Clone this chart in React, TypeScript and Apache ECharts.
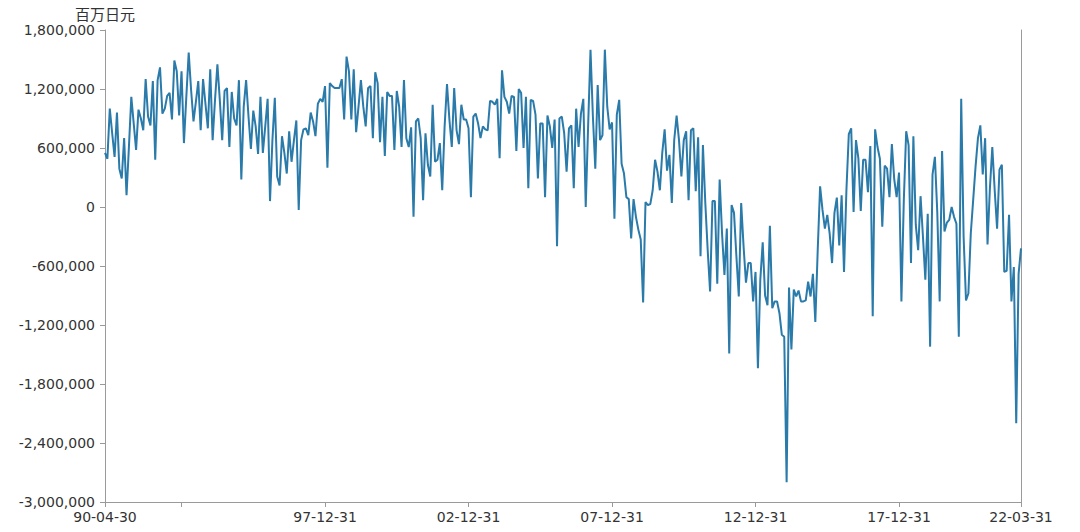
import React, { useEffect, useRef } from "react";
import * as echarts from "echarts";

// Monthly categories: month-end dates from 1990-04 to 2022-03 (YY-MM-DD)
const START_YEAR = 1990;
const START_MONTH = 4;
const MONTH_COUNT = 384;
const categories: string[] = [];
for (let k = 0; k < MONTH_COUNT; k++) {
  const m0 = START_MONTH - 1 + k;
  const y = START_YEAR + Math.floor(m0 / 12);
  const m = (m0 % 12) + 1;
  const d = new Date(Date.UTC(y, m, 0)).getUTCDate();
  categories.push(
    `${String(y % 100).padStart(2, "0")}-${String(m).padStart(2, "0")}-${String(d).padStart(2, "0")}`
  );
}

// Values (百万日元)
const values1990to1995 = [
  550000, 490000, 1000000, 750000, 510000, 960000, 390000, 290000, 700000, 120000, 610000, 1120000,
  850000, 580000, 990000, 900000, 780000, 1300000, 920000, 830000, 1280000, 480000, 1290000, 1420000,
  950000, 1000000, 1130000, 1160000, 890000, 1490000, 1380000, 930000, 1380000, 650000, 1120000, 1570000,
  1190000, 870000, 1070000, 1280000, 780000, 1300000, 1050000, 800000, 1400000, 680000, 1090000, 1450000,
  1090000, 680000, 1180000, 1210000, 610000, 1170000, 900000, 830000, 1290000, 280000, 1020000, 1290000,
  920000, 590000, 980000, 820000,
];
const values1995to2000 = [
  540000, 1120000, 550000, 820000, 1100000, 60000, 680000, 1110000, 310000, 220000, 720000, 550000,
  340000, 770000, 460000, 680000, 880000, -30000, 680000, 790000, 800000, 730000, 960000, 870000,
  720000, 1050000, 1100000, 1070000, 1230000, 400000, 1260000, 1230000, 1210000, 1210000, 1210000, 1300000,
  890000, 1530000, 1380000, 890000, 1400000, 760000, 1020000, 1290000, 1020000, 820000, 1210000, 1230000,
  700000, 1370000, 1260000, 660000, 1120000, 520000, 1170000, 1130000, 1130000, 580000, 1180000, 1020000,
  610000, 1290000, 700000, 610000,
];
const values2000to2006 = [
  810000, -100000, 870000, 900000, 700000, 70000, 750000, 430000, 310000, 1040000, 460000, 480000,
  650000, 170000, 820000, 1250000, 890000, 610000, 1210000, 780000, 640000, 1040000, 890000, 890000,
  800000, 100000, 920000, 950000, 850000, 700000, 820000, 790000, 780000, 1080000, 1070000, 1040000,
  1100000, 495000, 1390000, 1120000, 1070000, 950000, 1130000, 1120000, 570000, 1200000, 1160000, 600000,
  1120000, 190000, 1090000, 1080000, 940000, 290000, 850000, 850000, 100000, 930000, 820000, 600000,
  890000, -400000, 900000, 920000,
];
const values2006to2011 = [
  750000, 360000, 800000, 830000, 190000, 1000000, 610000, 950000, 1100000, 0, 820000, 1600000,
  920000, 390000, 1240000, 680000, 730000, 1600000, 1020000, 790000, 860000, -120000, 940000, 1090000,
  440000, 340000, 100000, 80000, -320000, 80000, -100000, -230000, -330000, -970000, 50000, 20000,
  30000, 170000, 480000, 360000, 170000, 550000, 790000, 370000, 530000, 40000, 680000, 930000,
  680000, 310000, 680000, 770000, 70000, 780000, 800000, 160000, 710000, -500000, 630000, 40000,
  -440000, -860000, 60000, 60000,
];
const values2011to2016 = [
  -780000, 280000, -270000, -690000, -220000, -1490000, 20000, -60000, -500000, -910000, 40000, -400000,
  -770000, -570000, -570000, -960000, -660000, -1640000, -740000, -360000, -900000, -1000000, -190000, -1030000,
  -960000, -960000, -1080000, -1300000, -1320000, -2800000, -820000, -1450000, -840000, -910000, -850000, -960000,
  -960000, -950000, -760000, -910000, -680000, -1170000, -440000, 210000, -30000, -220000, -80000, -270000,
  -570000, -60000, 95000, -390000, 120000, -660000, 170000, 740000, 800000, -50000, 680000, 495000,
  -40000, 480000, 480000, 150000,
];
const values2016to2022 = [
  620000, -1110000, 790000, 610000, 490000, -200000, 420000, 390000, 100000, 640000, 280000, 100000,
  350000, -960000, 70000, 770000, 630000, -570000, 720000, -180000, -440000, 110000, -300000, -740000,
  -70000, -1420000, 330000, 510000, -60000, -960000, 570000, -250000, -160000, -130000, 0, -100000,
  -170000, -1320000, 1100000, -300000, -950000, -880000, -270000, 70000, 410000, 700000, 830000, 330000,
  700000, -380000, 190000, 610000, 170000, -220000, 380000, 430000, -660000, -650000, -80000, -960000,
  -610000, -2200000, -680000, -420000,
];
const seriesValues = [
  ...values1990to1995,
  ...values1995to2000,
  ...values2000to2006,
  ...values2006to2011,
  ...values2011to2016,
  ...values2016to2022,
];

const tickIndices = [0, 32, 92, 152, 212, 272, 332, 383];
const labelIndices = [0, 92, 152, 212, 272, 332, 383];
const Y_MIN = -3000000;
const Y_MAX = 1800000;
const Y_STEP = 600000;
const UNIT = "百万日元";

export default function App() {
  const ref = useRef<HTMLDivElement>(null);
  useEffect(() => {
    if (!ref.current) return;
    const chart = echarts.init(ref.current, undefined, { renderer: "svg" });
    const tickSet = new Set(tickIndices);
    const labelSet = new Set(labelIndices);
    const axisColor = "#9a9a9a";
    const font = "DejaVu Sans";
    chart.setOption({
      animation: false,
      backgroundColor: "#ffffff",
      grid: { left: 105, right: 59, top: 30, bottom: 30, containLabel: false },
      xAxis: {
        type: "category",
        data: categories,
        boundaryGap: false,
        axisLine: { show: true, onZero: false, lineStyle: { color: axisColor, width: 1 } },
        axisTick: {
          show: true,
          interval: (idx: number) => tickSet.has(idx),
          length: 5,
          lineStyle: { color: axisColor },
        },
        axisLabel: {
          interval: (idx: number) => labelSet.has(idx),
          color: "#333",
          fontSize: 14,
          fontFamily: font,
          margin: 8,
        },
        splitLine: { show: false },
      },
      yAxis: [
        {
          type: "value",
          min: Y_MIN,
          max: Y_MAX,
          interval: Y_STEP,
          name: UNIT,
          nameLocation: "end",
          nameGap: 9,
          nameTextStyle: { color: "#333", fontSize: 15, fontFamily: "Noto Sans CJK SC", align: "center" },
          axisLine: { show: true, lineStyle: { color: axisColor, width: 1 } },
          axisTick: { show: true, length: 5, lineStyle: { color: axisColor } },
          axisLabel: {
            color: "#333",
            fontSize: 14,
            fontFamily: font,
            margin: 10,
            formatter: (v: number) => v.toLocaleString("en-US"),
          },
          splitLine: { show: false },
        },
        {
          type: "value",
          position: "right",
          min: Y_MIN,
          max: Y_MAX,
          interval: Y_STEP,
          axisLine: { show: true, lineStyle: { color: axisColor, width: 1 } },
          axisTick: { show: false },
          axisLabel: { show: false },
          splitLine: { show: false },
        },
      ],
      series: [
        {
          type: "line",
          data: seriesValues,
          yAxisIndex: 0,
          showSymbol: false,
          symbol: "none",
          lineStyle: { color: "#2a7aaa", width: 2 },
          itemStyle: { color: "#2a7aaa" },
        },
      ],
    });
    return () => chart.dispose();
  }, []);
  return (
    <div
      ref={ref}
      style={{ position: "fixed", left: 0, top: 0, width: 1080, height: 532, background: "#fff" }}
    />
  );
}
